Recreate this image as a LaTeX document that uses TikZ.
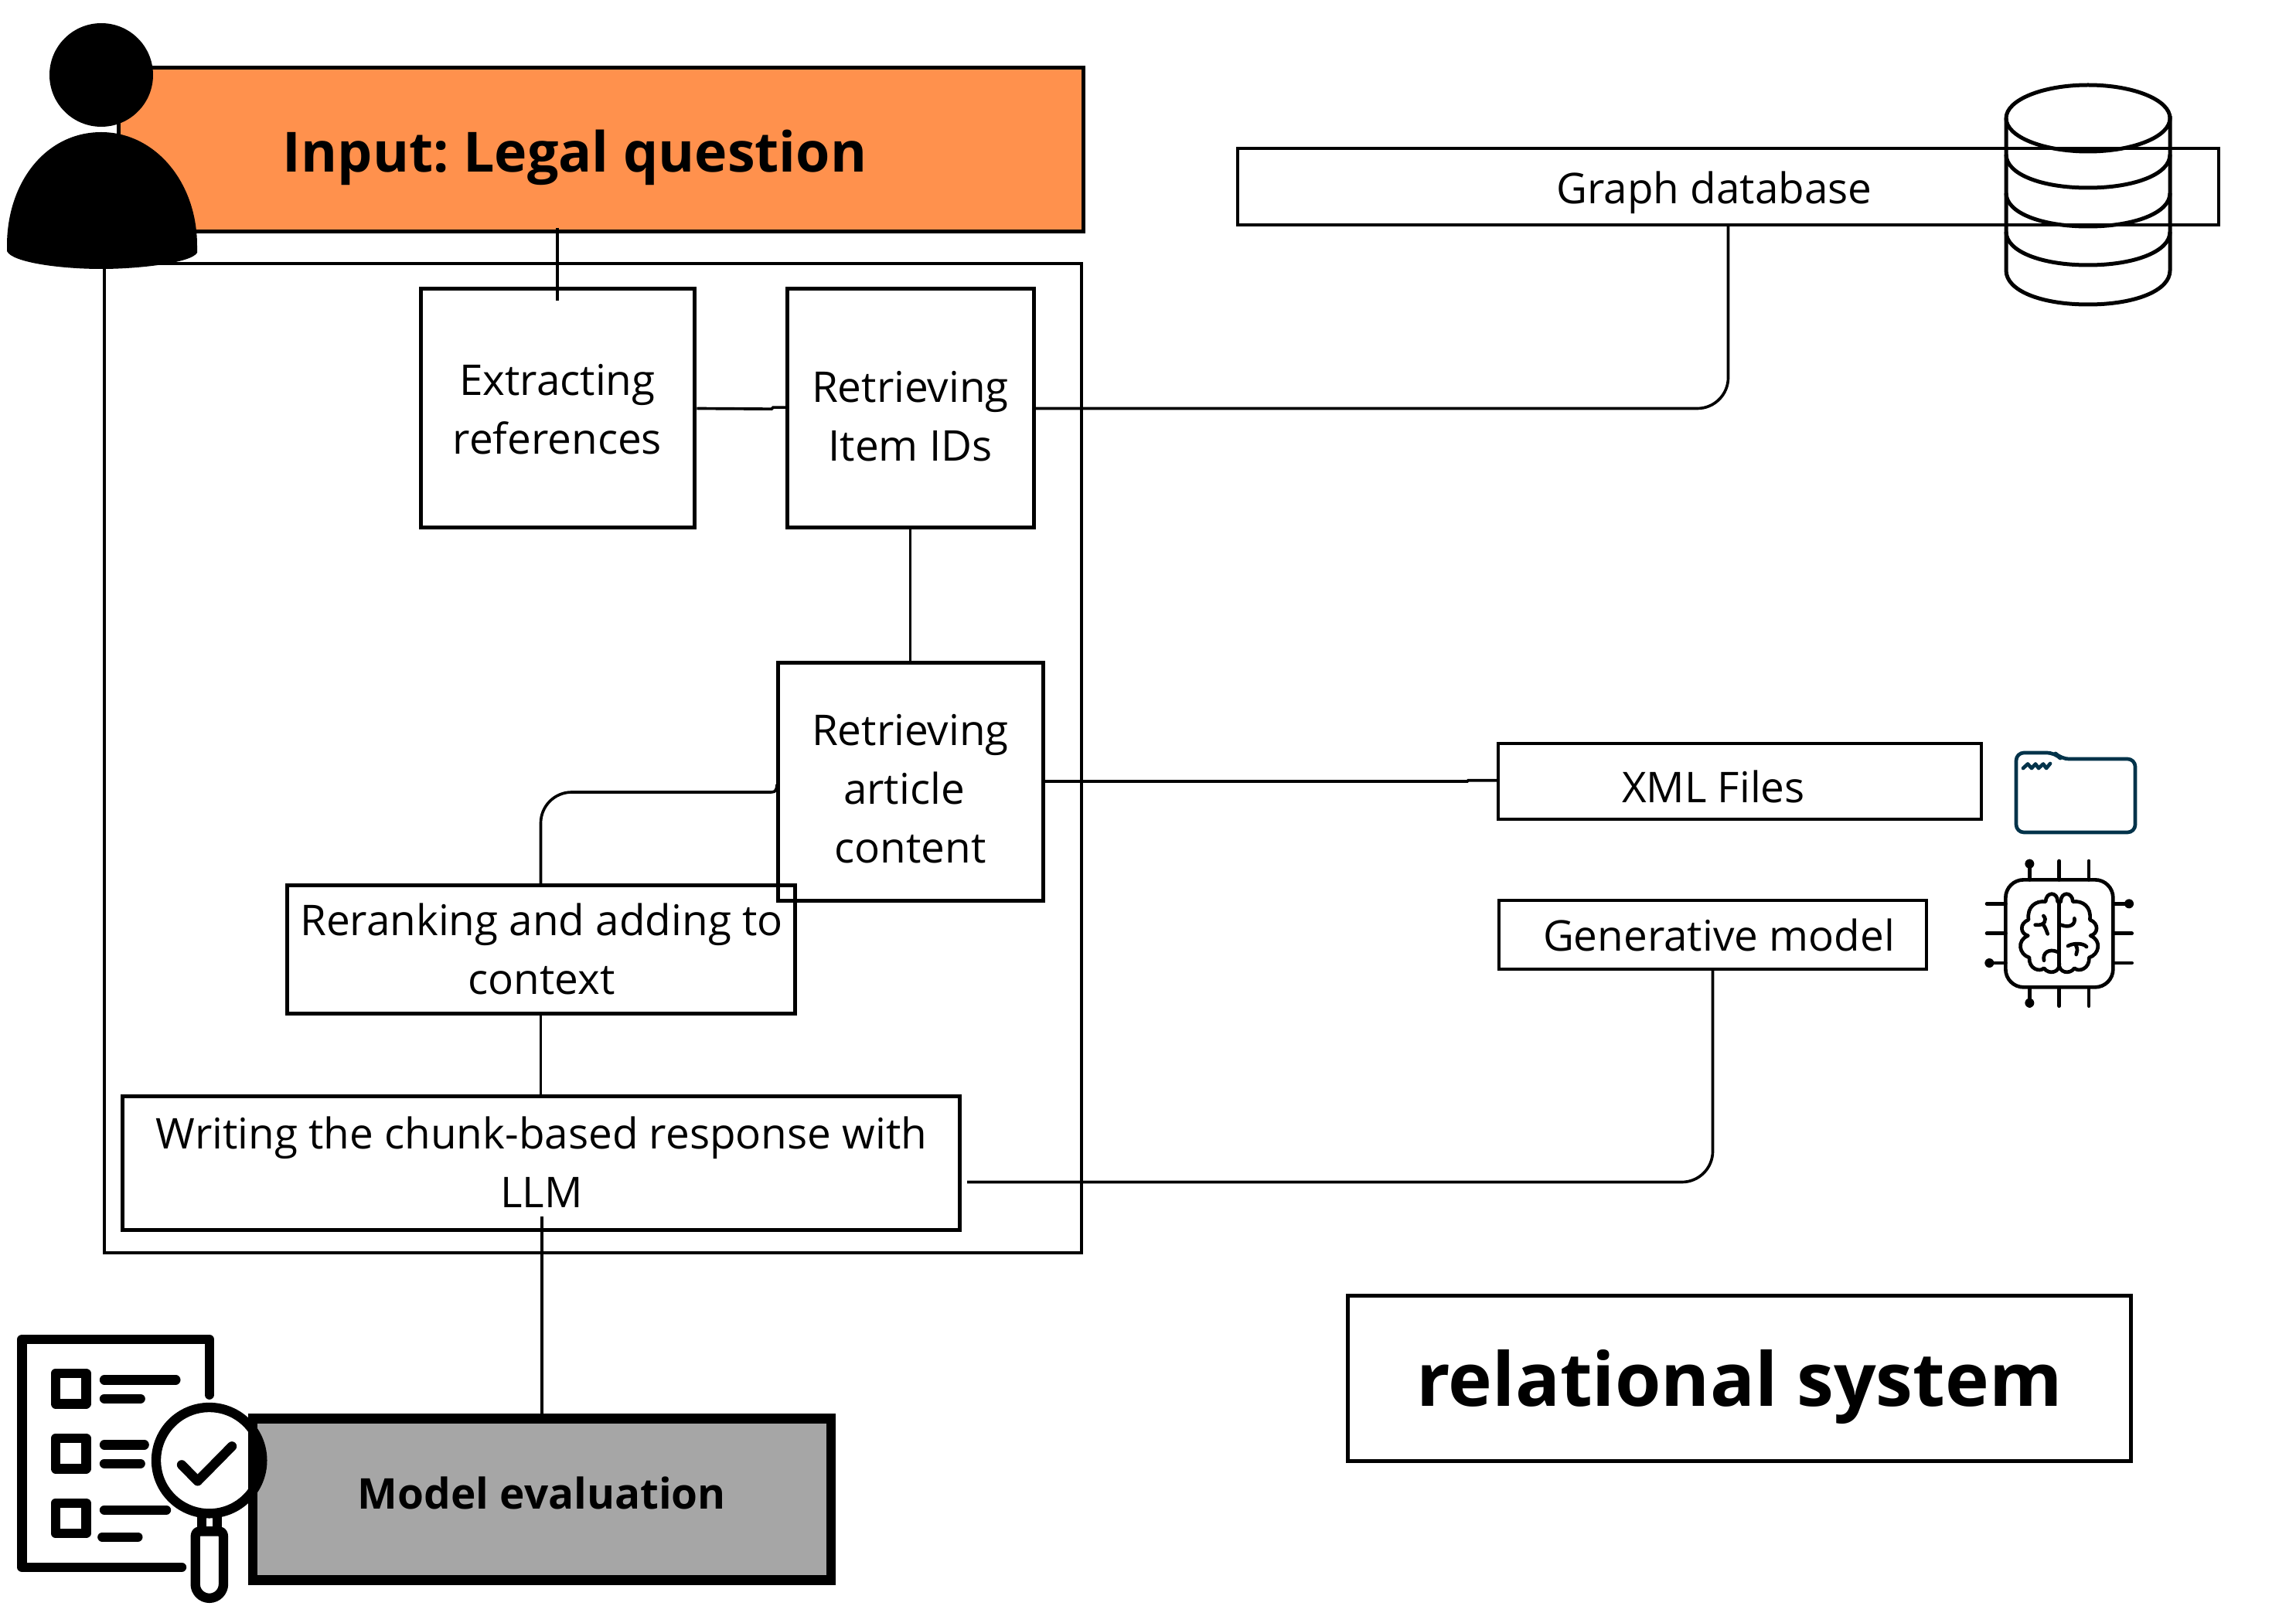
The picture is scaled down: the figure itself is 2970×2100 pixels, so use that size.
\documentclass[tikz,border=0pt]{standalone}
\usepackage{fontspec}
\setmainfont{Open Sans}
\usetikzlibrary{calc}
\definecolor{inputorange}{HTML}{FF914D}
\definecolor{evalgrey}{HTML}{A6A6A6}
\definecolor{foldercol}{HTML}{02334A}
\tikzset{
  procbox/.style={draw=black,line width=1.5pt,inner sep=0pt,outer sep=0pt},
  thinbox/.style={procbox,line width=1.3pt},
  boxtext/.style={align=center,inner sep=0pt,font=\fontsize{16.45}{22.8}\selectfont},
  conn/.style={draw=black,line width=1.1pt},
  iconline/.style={draw=black,line cap=round,line join=round},
}
\newcommand{\procnode}[9]{%
  \pgfmathsetmacro\pcx{(#3+#5)/2}%
  \pgfmathsetmacro\pcy{(#4+#6)/2}%
  \pgfmathsetmacro\pbw{(#5-#3)*0.3}%
  \pgfmathsetmacro\pbh{(#6-#4)*0.3}%
  \node[#1,minimum width=\pbw pt,minimum height=\pbh pt,
    label={[boxtext,xshift=#7*0.3pt,yshift=-#8*0.3pt]center:{#9}}] (#2) at (\pcx,\pcy) {};%
}
\begin{document}
\frenchspacing
\begin{tikzpicture}[x=0.3pt,y=-0.3pt]
\useasboundingbox (0,0) rectangle (2970,2100);

% outer frame and input
\node[procbox,fill=inputorange,minimum width=374.4pt,minimum height=63.6pt,
  label={[align=center,inner sep=0pt,xshift=-10pt,yshift=-3.1pt,font=\fontsize{21.5}{26}\selectfont\bfseries]center:{Input: Legal question}}]
  (input) at (777,194) {};
\node[thinbox,line width=1.2pt,minimum width=379.2pt,minimum height=384pt] (frame) at (766.5,980.5) {};

% process boxes
\procnode{procbox}{ext}{544}{374}{898}{683}{0}{1}{Extracting\\references}
\procnode{procbox}{item}{1018}{374}{1337}{683}{0}{10}{Retrieving\\Item IDs}
\procnode{procbox}{art}{1006}{857}{1349}{1165}{0}{10}{Retrieving\\\mbox{article\kern4.8pt}\\content}
\procnode{procbox}{rerank}{371}{1145}{1028}{1311}{1}{0}{Reranking and adding to\\context}
\procnode{procbox}{write}{158}{1418}{1241}{1591}{1}{-1}{Writing the chunk-based response with\\LLM}

% resource boxes
\procnode{thinbox}{gdb}{1601}{192}{2870}{291}{-18}{8}{Graph database}
\procnode{thinbox}{xml}{1938}{962}{2563}{1060}{-34}{7}{XML Files}
\procnode{thinbox}{gen}{1939}{1165}{2492}{1254}{8}{0}{Generative model}

% legend
\node[procbox,minimum width=304pt,minimum height=64.2pt,
  label={[align=center,inner sep=0pt,yshift=-3.4pt,font=\fontsize{28.85}{34}\selectfont\bfseries]center:{relational system}}]
  (rel) at (2250,1783) {};

% connectors
\coordinate (ei) at (ext.north |- input.south);
\draw[conn] ([yshift=1.5pt]ei) -- ([yshift=-4.5pt]ext.north);
\draw[conn] ([xshift=1pt]ext.east) -- ([xshift=-6pt,yshift=-0.2pt]item.west) -- ([xshift=-5.4pt,yshift=0.4pt]item.west) -- ([yshift=0.4pt]item.west);
\draw[conn,rounded corners=12pt] (item.east) -| (gdb.south);
\draw[conn] (item.south) -- (art.north);
\draw[conn] (art.east) -- ([xshift=-12pt]xml.west) -- ([xshift=-11.6pt,yshift=0.4pt]xml.west) -- ([yshift=0.4pt]xml.west);
\coordinate (hook) at ($(art.west)+(-2.4pt,-4.2pt)$);
\draw[conn,rounded corners=12pt] (rerank.north) |- (hook);
\draw[conn] (hook) .. controls ($(art.west)+(-0.7pt,-4.2pt)$) and ($(art.west)+(-0.4pt,-3pt)$) .. ($(art.west)+(-0.3pt,-1.2pt)$);
\draw[conn] (rerank.south) -- (write.north);
\draw[conn,rounded corners=12pt] ([shift={(3pt,-7.5pt)}]write.east) -| (gen.south);

% checklist icon (below the evaluation box)
\begin{scope}[shift={(0,1702)},x=0.1pt,y=-0.1pt]
  \draw[iconline,line width=3.7pt] (812,308) -- (812,93) -- (85,93) -- (85,977) -- (705,977);
  \foreach \yy in {225,477,728}{
    \draw[iconline,line width=3.7pt] (216,\yy) rectangle (334,\yy+118);
  }
  \draw[iconline,line width=3.7pt] (405,250) -- (682,250);
  \draw[iconline,line width=3.7pt] (405,323) -- (545,323);
  \draw[iconline,line width=3.7pt] (405,502) -- (560,502);
  \draw[iconline,line width=3.7pt] (405,575) -- (545,575);
  \draw[iconline,line width=3.7pt] (405,755) -- (645,755);
  \draw[iconline,line width=3.7pt] (397,860) -- (535,860);
  \fill[white] (812,563) circle [radius=20.6pt];
  \draw[iconline,line width=3.7pt] (782,775) -- (782,835) (842,775) -- (842,835);
  \draw[iconline,line width=3.7pt] (758,860) -- (758,1043) arc [start angle=180,end angle=360,radius=5.45pt] -- (867,860) .. controls (867,845) and (860,838) .. (850,838) -- (775,838) .. controls (765,838) and (758,845) .. (758,860) -- cycle;
\end{scope}

% model evaluation
\node[draw=black,line width=3.75pt,fill=evalgrey,inner sep=0pt,outer sep=0pt,minimum width=224.4pt,minimum height=62.7pt,
  label={[align=center,inner sep=0pt,yshift=2.4pt,font=\fontsize{16.46}{20}\selectfont\bfseries]center:{Model evaluation}}]
  (model) at (701,1940) {};
\coordinate (wm) at (model.north |- write.south);
\draw[conn] ([yshift=5pt]wm) -- (model.north);

\begin{scope}[shift={(0,1702)},x=0.1pt,y=-0.1pt]
  \draw[line width=3.7pt,black] (812,563) circle [radius=20.6pt];
  \draw[iconline,line width=3.7pt] (705,580) -- (767,643) -- (900,508);
\end{scope}

% person
\fill[black] (131,97) circle [radius=20.1pt];
\fill[black] (9,318) .. controls (9,235) and (60,171) .. (131,171)
  .. controls (200,171) and (255,235) .. (255,318) -- (255,327)
  .. controls (248,340) and (180,348) .. (131,348)
  .. controls (80,348) and (16,340) .. (9,325) -- cycle;

% database icon
\begin{scope}[line width=1.5pt,line join=round]
  \draw (2701,153) ellipse [x radius=106,y radius=43];
  \draw (2595,153) -- (2595,350) .. controls (2595,376) and (2640,394) .. (2701,394) .. controls (2762,394) and (2807,376) .. (2807,350) -- (2807,150);
  \foreach \yy in {200,250,300}{
    \draw (2595,\yy) .. controls (2595,\yy+25) and (2640,\yy+43) .. (2701,\yy+43) .. controls (2762,\yy+43) and (2807,\yy+25) .. (2807,\yy);
  }
\end{scope}

% folder icon
\draw[foldercol,line width=1.4pt,line join=round,rounded corners=3pt]
  (2608,1077) -- (2608,974) -- (2658,974) -- (2666,982) -- (2762,982) -- (2762,1077) -- cycle;
\draw[foldercol,line width=1.4pt,line cap=round,line join=round]
  (2617,994) -- (2623,988.5) -- (2628,994) -- (2633,988.5) -- (2637,994) -- (2643,988.5) -- (2647,994) -- (2652,988);

% chip and brain icon
\begin{scope}[shift={(2550,940)},x=0.1pt,y=-0.1pt,line width=1.4pt,line cap=round,line join=round]
  \draw[rounded corners=7pt] (133,595) rectangle (550,1012);
  \foreach \xx in {226,341,456}{
    \draw (\xx,595) -- (\xx,522);
    \draw (\xx,1012) -- (\xx,1085);
  }
  \foreach \yy in {688,803,918}{
    \draw (133,\yy) -- (60,\yy);
    \draw (550,\yy) -- (623,\yy);
  }
  \fill (226,533) circle [radius=1.8pt];
  \fill (226,1073) circle [radius=1.8pt];
  \fill (70,918) circle [radius=1.8pt];
  \fill (612,688) circle [radius=1.8pt];
  % brain
  \draw (335,680) .. controls (335,640) and (290,640) .. (288,680)
    .. controls (250,675) and (215,700) .. (222,750)
    .. controls (185,765) and (190,805) .. (220,812)
    .. controls (175,830) and (185,885) .. (225,897)
    .. controls (222,940) and (265,955) .. (282,938)
    .. controls (300,965) and (345,955) .. (341,920);
  \draw (347,680) .. controls (347,640) and (392,640) .. (394,680)
    .. controls (432,675) and (467,700) .. (460,750)
    .. controls (497,765) and (492,805) .. (462,812)
    .. controls (507,830) and (497,885) .. (457,897)
    .. controls (460,940) and (417,955) .. (400,938)
    .. controls (382,965) and (337,955) .. (341,920);
  \draw (341,680) -- (341,930);
  \draw (280,735) .. controls (295,750) and (285,775) .. (248,770);
  \draw (280,770) .. controls (290,785) and (292,795) .. (296,805);
  \draw (347,770) .. controls (385,785) and (405,765) .. (400,745);
  \draw (375,852) .. controls (395,840) and (435,840) .. (447,855);
  \draw (405,848) .. controls (415,865) and (410,875) .. (407,885);
  \draw (335,875) .. controls (300,860) and (275,880) .. (282,908);
\end{scope}
\end{tikzpicture}
\end{document}
